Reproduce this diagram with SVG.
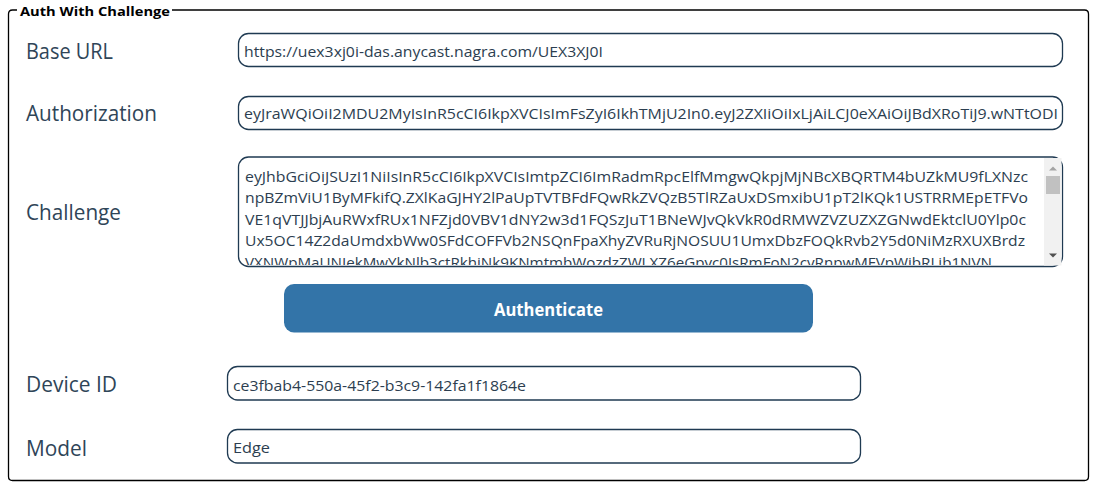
<svg xmlns="http://www.w3.org/2000/svg" width="1096" height="489" viewBox="0 0 1096 489">
<style>
  .lbl { font-family: "Open Sans", "Noto Sans", sans-serif; font-size: 21px; fill: #2f4558; }
  .val { font-family: "Open Sans", "Noto Sans", sans-serif; font-size: 14.5px; fill: #2c3e50; }
  .box { fill: #ffffff; stroke: #1f3a52; stroke-width: 1.3; }
  .legend { font-family: "Open Sans", "Liberation Sans", sans-serif; font-size: 13px; font-weight: bold; fill: #000000; }
  .btntxt { font-family: "Open Sans", "Liberation Sans", sans-serif; font-size: 17px; font-weight: bold; fill: #ffffff; }
</style>
<defs>
  <clipPath id="clipAuth"><rect x="240" y="97" width="818" height="31"/></clipPath>
  <clipPath id="clipChal"><rect x="240" y="158" width="804" height="107"/></clipPath>
</defs>
<rect x="0" y="0" width="1096" height="489" fill="#ffffff"/>

<g id="frame">
  <path d="M 17 10 L 12.5 10 Q 8.5 10 8.5 14 L 8.5 476.5 Q 8.5 480.5 12.5 480.5 L 1084.5 480.5 Q 1088.5 480.5 1088.5 476.5 L 1088.5 14 Q 1088.5 10 1084.5 10 L 172 10" fill="none" stroke="#000000" stroke-width="1.3"/>
  <text class="legend" x="20" y="15.5" textLength="150" lengthAdjust="spacingAndGlyphs">Auth With Challenge</text>
</g>

<g id="base-url">
  <text class="lbl" x="26" y="59" textLength="87" lengthAdjust="spacingAndGlyphs">Base URL</text>
  <rect class="box" x="238.5" y="33.5" width="824" height="33" rx="10"/>
  <text class="val" x="244" y="56.5" textLength="359" lengthAdjust="spacingAndGlyphs">https://uex3xj0i-das.anycast.nagra.com/UEX3XJ0I</text>
</g>

<g id="authorization">
  <text class="lbl" x="26" y="120.5" textLength="131" lengthAdjust="spacingAndGlyphs">Authorization</text>
  <rect class="box" x="238.5" y="96.5" width="824" height="33" rx="10"/>
  <g clip-path="url(#clipAuth)">
    <text class="val" x="244" y="119" textLength="814" lengthAdjust="spacingAndGlyphs">eyJraWQiOiI2MDU2MyIsInR5cCI6IkpXVCIsImFsZyI6IkhTMjU2In0.eyJ2ZXIiOiIxLjAiLCJ0eXAiOiJBdXRoTiJ9.wNTtODI</text>
  </g>
</g>

<g id="challenge">
  <text class="lbl" x="26" y="220" textLength="95" lengthAdjust="spacingAndGlyphs">Challenge</text>
  <rect class="box" x="238.5" y="157" width="824" height="109.5" rx="10"/>
  <g clip-path="url(#clipChal)">
    <text class="val" x="245" y="181.5" textLength="783" lengthAdjust="spacingAndGlyphs">eyJhbGciOiJSUzI1NiIsInR5cCI6IkpXVCIsImtpZCI6ImRadmRpcElfMmgwQkpjMjNBcXBQRTM4bUZkMU9fLXNzc</text>
    <text class="val" x="245" y="203.1" textLength="783" lengthAdjust="spacingAndGlyphs">npBZmViU1ByMFkifQ.ZXlKaGJHY2lPaUpTVTBFdFQwRkZVQzB5TlRZaUxDSmxibU1pT2lKQk1USTRRMEpETFVo</text>
    <text class="val" x="245" y="224.7" textLength="781" lengthAdjust="spacingAndGlyphs">VE1qVTJJbjAuRWxfRUx1NFZjd0VBV1dNY2w3d1FQSzJuT1BNeWJvQkVkR0dRMWZVZUZXZGNwdEktclU0Ylp0c</text>
    <text class="val" x="245" y="246.3" textLength="780" lengthAdjust="spacingAndGlyphs">Ux5OC14Z2daUmdxbWw0SFdCOFFVb2NSQnFpaXhyZVRuRjNOSUU1UmxDbzFOQkRvb2Y5d0NiMzRXUXBrdz</text>
    <text class="val" x="245" y="267.9" textLength="747" lengthAdjust="spacingAndGlyphs">VXNWpMaUNIekMwYkNlb3ctRkhiNk9KNmtmbWozdzZWLXZ6eGpvc0JsRmFoN2cyRnpwMFVpWibRLjb1NVN</text>
  </g>
  <rect x="1044" y="158" width="17.5" height="107.5" fill="#f1f1f1"/>
  <rect x="1046" y="176" width="14" height="18" fill="#c1c1c1"/>
  <polygon points="1049,170.5 1057,170.5 1053,166.5" fill="#a3a3a3"/>
  <polygon points="1049,253.5 1057,253.5 1053,257.5" fill="#505050"/>
</g>

<g id="authenticate-button">
  <rect x="284" y="284" width="529" height="48.5" rx="10" fill="#3374a8"/>
  <text class="btntxt" x="548.5" y="316" text-anchor="middle" textLength="109" lengthAdjust="spacingAndGlyphs">Authenticate</text>
</g>

<g id="device-id">
  <text class="lbl" x="26" y="392" textLength="91" lengthAdjust="spacingAndGlyphs">Device ID</text>
  <rect class="box" x="227.5" y="366.5" width="633" height="33.5" rx="10"/>
  <text class="val" x="233" y="390.5" textLength="293" lengthAdjust="spacingAndGlyphs">ce3fbab4-550a-45f2-b3c9-142fa1f1864e</text>
</g>

<g id="model">
  <text class="lbl" x="26" y="455.5" textLength="61" lengthAdjust="spacingAndGlyphs">Model</text>
  <rect class="box" x="227.5" y="429.5" width="633" height="33.5" rx="10"/>
  <text class="val" x="233" y="452.5" textLength="37" lengthAdjust="spacingAndGlyphs">Edge</text>
</g>

<g id="connectors"></g>
</svg>
